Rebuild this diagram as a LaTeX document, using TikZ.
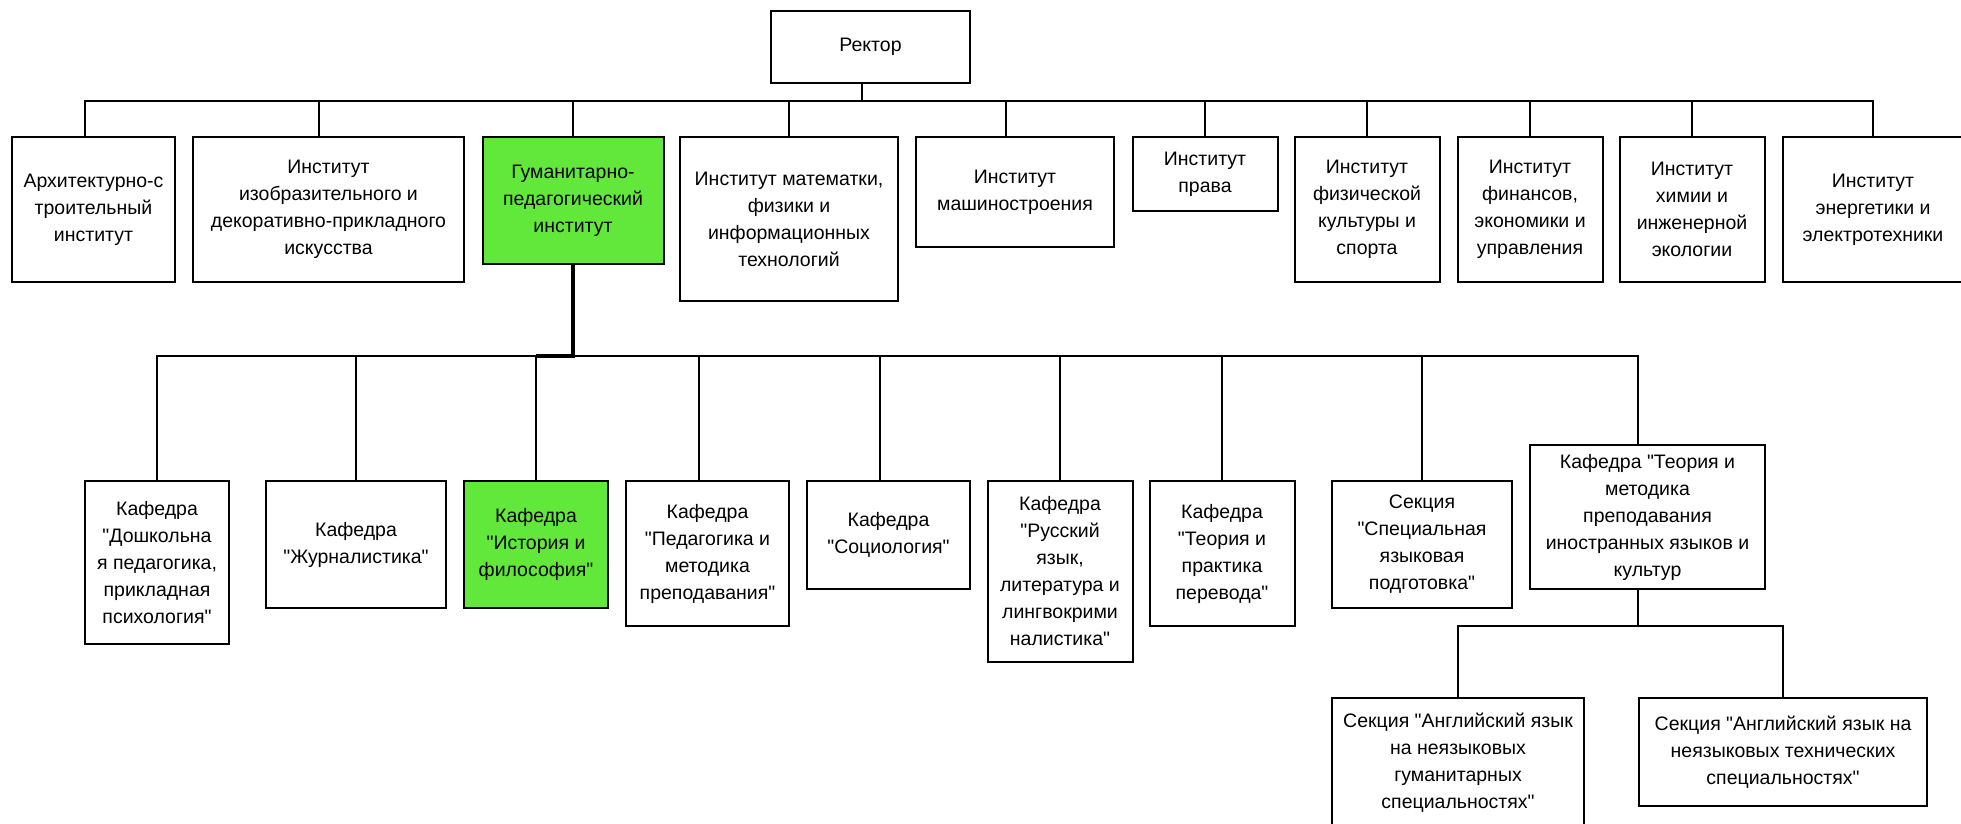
\documentclass[tikz,border=0pt]{standalone}
\usepackage{fontspec}
\setmainfont{Liberation Sans}[Ligatures=TeXOff]
\definecolor{hlgreen}{RGB}{98,232,58}
\begin{document}
\begin{tikzpicture}[x=1pt,y=-1pt,
  box/.style={draw=black, line width=2pt, fill=white, rectangle, inner sep=0pt,
    align=center, font=\fontsize{19.5}{27}\selectfont},
  hl/.style={fill=hlgreen},
  link/.style={line width=2pt, line cap=rect},
  mainlink/.style={line width=4pt, line join=miter}]
\useasboundingbox (0,0) rectangle (1961,823);
\clip (0,0) rectangle (1961,823);
\fill[white] (0,0) rectangle (1961,823);

% rector
\node[box, minimum width=199pt, minimum height=72pt] (rektor) at (870.5,47) {Ректор};

% institutes
\node[box, minimum width=163pt, minimum height=145pt] (arch) at (93.5,209.5)
  {Архитектурно-с\\троительный\\институт};
\node[box, minimum width=271pt, minimum height=145pt] (izobr) at (328.5,209.5)
  {Институт\\изобразительного и\\декоративно-прикладного\\искусства};
\node[box, hl, minimum width=181pt, minimum height=127pt] (guman) at (573,200.5)
  {Гуманитарно-\\педагогический\\институт};
\node[box, minimum width=218pt, minimum height=164pt] (math) at (789,219)
  {Институт математки,\\физики и\\информационных\\технологий};
\node[box, minimum width=198pt, minimum height=110pt] (mash) at (1015,192)
  {Институт\\машиностроения};
\node[box, minimum width=145pt, minimum height=74pt] (prava) at (1205,174)
  {Институт\\права};
\node[box, minimum width=145pt, minimum height=145pt] (phys) at (1367,209.5)
  {Институт\\физической\\культуры и\\спорта};
\node[box, minimum width=145pt, minimum height=145pt] (fin) at (1530,209.5)
  {Институт\\финансов,\\экономики и\\управления};
\node[box, minimum width=145pt, minimum height=145pt] (chem) at (1692,209.5)
  {Институт\\химии и\\инженерной\\экологии};
\node[box, minimum width=180pt, minimum height=145pt] (energ) at (1873,209.5)
  {Институт\\энергетики и\\электротехники};

% departments
\node[box, minimum width=144pt, minimum height=163pt] (doshk) at (157,562.5)
  {Кафедра\\"Дошкольна\\я педагогика,\\прикладная\\психология"};
\node[box, minimum width=180pt, minimum height=127pt] (zhurn) at (356,544.5)
  {Кафедра\\"Журналистика"};
\node[box, hl, minimum width=144pt, minimum height=127pt] (istoria) at (536,544.5)
  {Кафедра\\"История и\\философия"};
\node[box, minimum width=163pt, minimum height=145pt] (pedag) at (707.5,553.5)
  {Кафедра\\"Педагогика и\\методика\\преподавания"};
\node[box, minimum width=163pt, minimum height=108pt] (socio) at (888.5,535)
  {Кафедра\\"Социология"};
\node[box, minimum width=145pt, minimum height=181pt] (russ) at (1060,571.5)
  {Кафедра\\"Русский\\язык,\\литература и\\лингвокрими\\налистика"};
\node[box, minimum width=145pt, minimum height=145pt] (perev) at (1222,553.5)
  {Кафедра\\"Теория и\\практика\\перевода"};
\node[box, minimum width=180pt, minimum height=127pt] (sekc) at (1422,544.5)
  {Секция\\"Специальная\\языковая\\подготовка"};
\node[box, minimum width=235pt, minimum height=144pt] (kaftmp) at (1647.5,517)
  {Кафедра "Теория и\\методика\\преподавания\\иностранных языков и\\культур};

% sections
\node[box, minimum width=252pt, minimum height=130pt] (engh) at (1458,763)
  {Секция "Английский язык\\на неязыковых\\гуманитарных\\специальностях"};
\node[box, minimum width=288pt, minimum height=108pt] (engt) at (1783,752)
  {Секция "Английский язык на\\неязыковых технических\\специальностях"};

% upper bus
\coordinate (busA) at (0,101);
\draw[link] ([xshift=-8.5pt]rektor.south) -- ([xshift=-8.5pt]rektor.south |- busA);
\draw[link] ([xshift=-8.5pt]arch.north |- busA) -- (energ.north |- busA);
\foreach \n/\s in {arch/-8.5, izobr/-9.5, guman/0, math/0, mash/-9, prava/0,
                   phys/0, fin/0, chem/0, energ/0}
  \draw[link] ([xshift=\s pt]\n.north) -- ([xshift=\s pt]\n.north |- busA);

% department bus
\coordinate (busB) at (0,356);
\draw[link] (doshk.north |- busB) -- ([xshift=-9.5pt]kaftmp.north |- busB);
\foreach \n/\s in {doshk/0, zhurn/0, istoria/0, pedag/-8.5, socio/-8.5, russ/0,
                   perev/0, sekc/0, kaftmp/-9.5}
  \draw[link] ([xshift=\s pt]\n.north) -- ([xshift=\s pt]\n.north |- busB);
\draw[mainlink] (guman.south) |- (istoria.north |- busB);

% section bus
\coordinate (busC) at (0,626);
\draw[link] ([xshift=-9.5pt]kaftmp.south) -- ([xshift=-9.5pt]kaftmp.south |- busC);
\draw[link] (engh.north |- busC) -- (engt.north |- busC);
\foreach \n in {engh, engt}
  \draw[link] (\n.north) -- (\n.north |- busC);
\end{tikzpicture}
\end{document}
